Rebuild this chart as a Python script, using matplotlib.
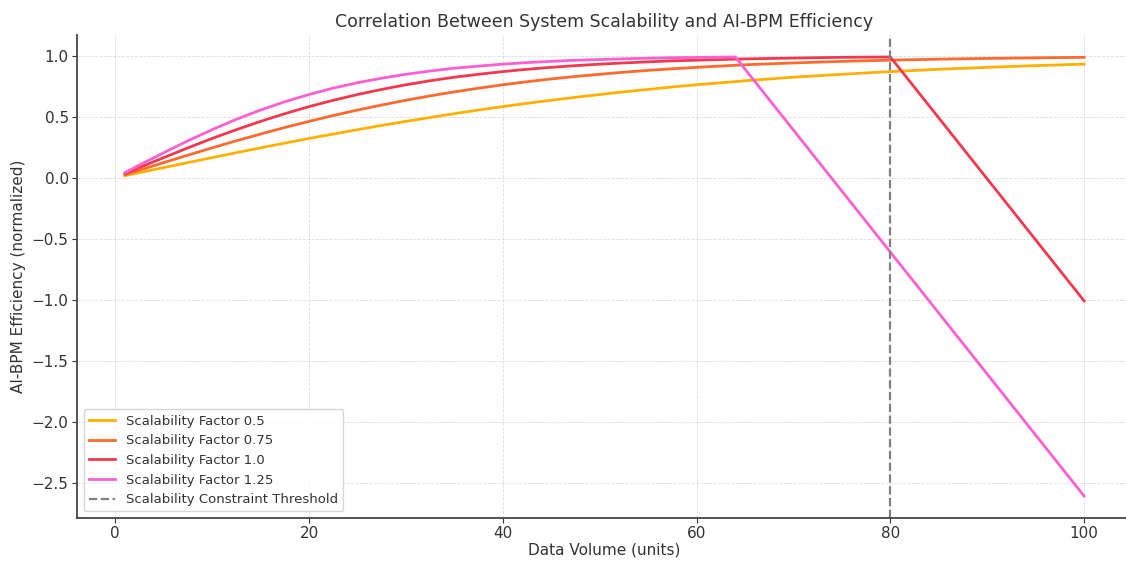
import matplotlib
matplotlib.use("Agg")
import matplotlib.pyplot as plt

# data volume (units)
x = [1, 2.5, 5, 7.5, 10, 12.5, 15, 17.5, 20, 22.5, 25, 27.5, 30, 32.5, 35, 37.5, 40,
     42.5, 45, 47.5, 50, 52.5, 55, 57.5, 60, 64, 65, 70, 75, 80, 85, 90, 95, 100]

eff_050 = [0.017, 0.042, 0.083, 0.124, 0.165, 0.205, 0.245, 0.284, 0.322, 0.358, 0.394,
           0.429, 0.462, 0.494, 0.525, 0.555, 0.583, 0.610, 0.635, 0.659, 0.682, 0.704,
           0.724, 0.744, 0.762, 0.788, 0.795, 0.824, 0.848, 0.870, 0.889, 0.905, 0.919, 0.931]
eff_075 = [0.025, 0.062, 0.124, 0.185, 0.245, 0.303, 0.358, 0.412, 0.462, 0.510, 0.555,
           0.596, 0.635, 0.671, 0.704, 0.734, 0.762, 0.787, 0.810, 0.830, 0.848, 0.865,
           0.880, 0.893, 0.905, 0.922, 0.926, 0.941, 0.954, 0.964, 0.972, 0.978, 0.983, 0.987]
eff_100 = [0.033, 0.083, 0.165, 0.245, 0.322, 0.394, 0.462, 0.525, 0.583, 0.635, 0.682,
           0.724, 0.762, 0.795, 0.824, 0.848, 0.870, 0.889, 0.905, 0.919, 0.931, 0.941,
           0.950, 0.958, 0.964, 0.972, 0.974, 0.981, 0.987, 0.990, 0.49, -0.01, -0.51, -1.01]
eff_125 = [0.042, 0.104, 0.205, 0.303, 0.394, 0.479, 0.555, 0.623, 0.682, 0.735, 0.779,
           0.816, 0.848, 0.875, 0.898, 0.915, 0.931, 0.944, 0.954, 0.963, 0.969, 0.975,
           0.980, 0.984, 0.986, 0.990, 0.89, 0.39, -0.11, -0.61, -1.11, -1.61, -2.11, -2.61]

series = [eff_050, eff_075, eff_100, eff_125]
labels = ["Scalability Factor 0.5", "Scalability Factor 0.75",
          "Scalability Factor 1.0", "Scalability Factor 1.25"]
colors = ["#ffb000", "#fd6a2e", "#f2384f", "#fc5fcf"]
threshold = 80

fig = plt.figure(figsize=(11.26, 5.61), dpi=100)
ax = fig.add_axes([0.0684, 0.0766, 0.937, 0.861])

for ys, lab, col in zip(series, labels, colors):
    ax.plot(x, ys, color=col, lw=2, label=lab)

ax.axvline(threshold, color="#808080", ls="--", lw=1.6, label="Scalability Constraint Threshold")

ax.set_title("Correlation Between System Scalability and AI-BPM Efficiency", fontsize=12.5, color="#333333")
ax.set_xlabel("Data Volume (units)", fontsize=11, color="#333333", labelpad=1)
ax.set_ylabel("AI-BPM Efficiency (normalized)", fontsize=11, color="#333333")
ax.tick_params(labelsize=11, colors="#333333", pad=2.5)
ax.grid(True, ls="--", lw=0.6, color="#dddddd")
ax.spines["top"].set_visible(False)
ax.spines["right"].set_visible(False)
for s in ["left", "bottom"]:
    ax.spines[s].set_color("#444444")
    ax.spines[s].set_linewidth(1.3)

leg = ax.legend(loc="lower left", fontsize=9.5)
for t in leg.get_texts():
    t.set_color("#333333")

fig.savefig("out.png", dpi=100)
